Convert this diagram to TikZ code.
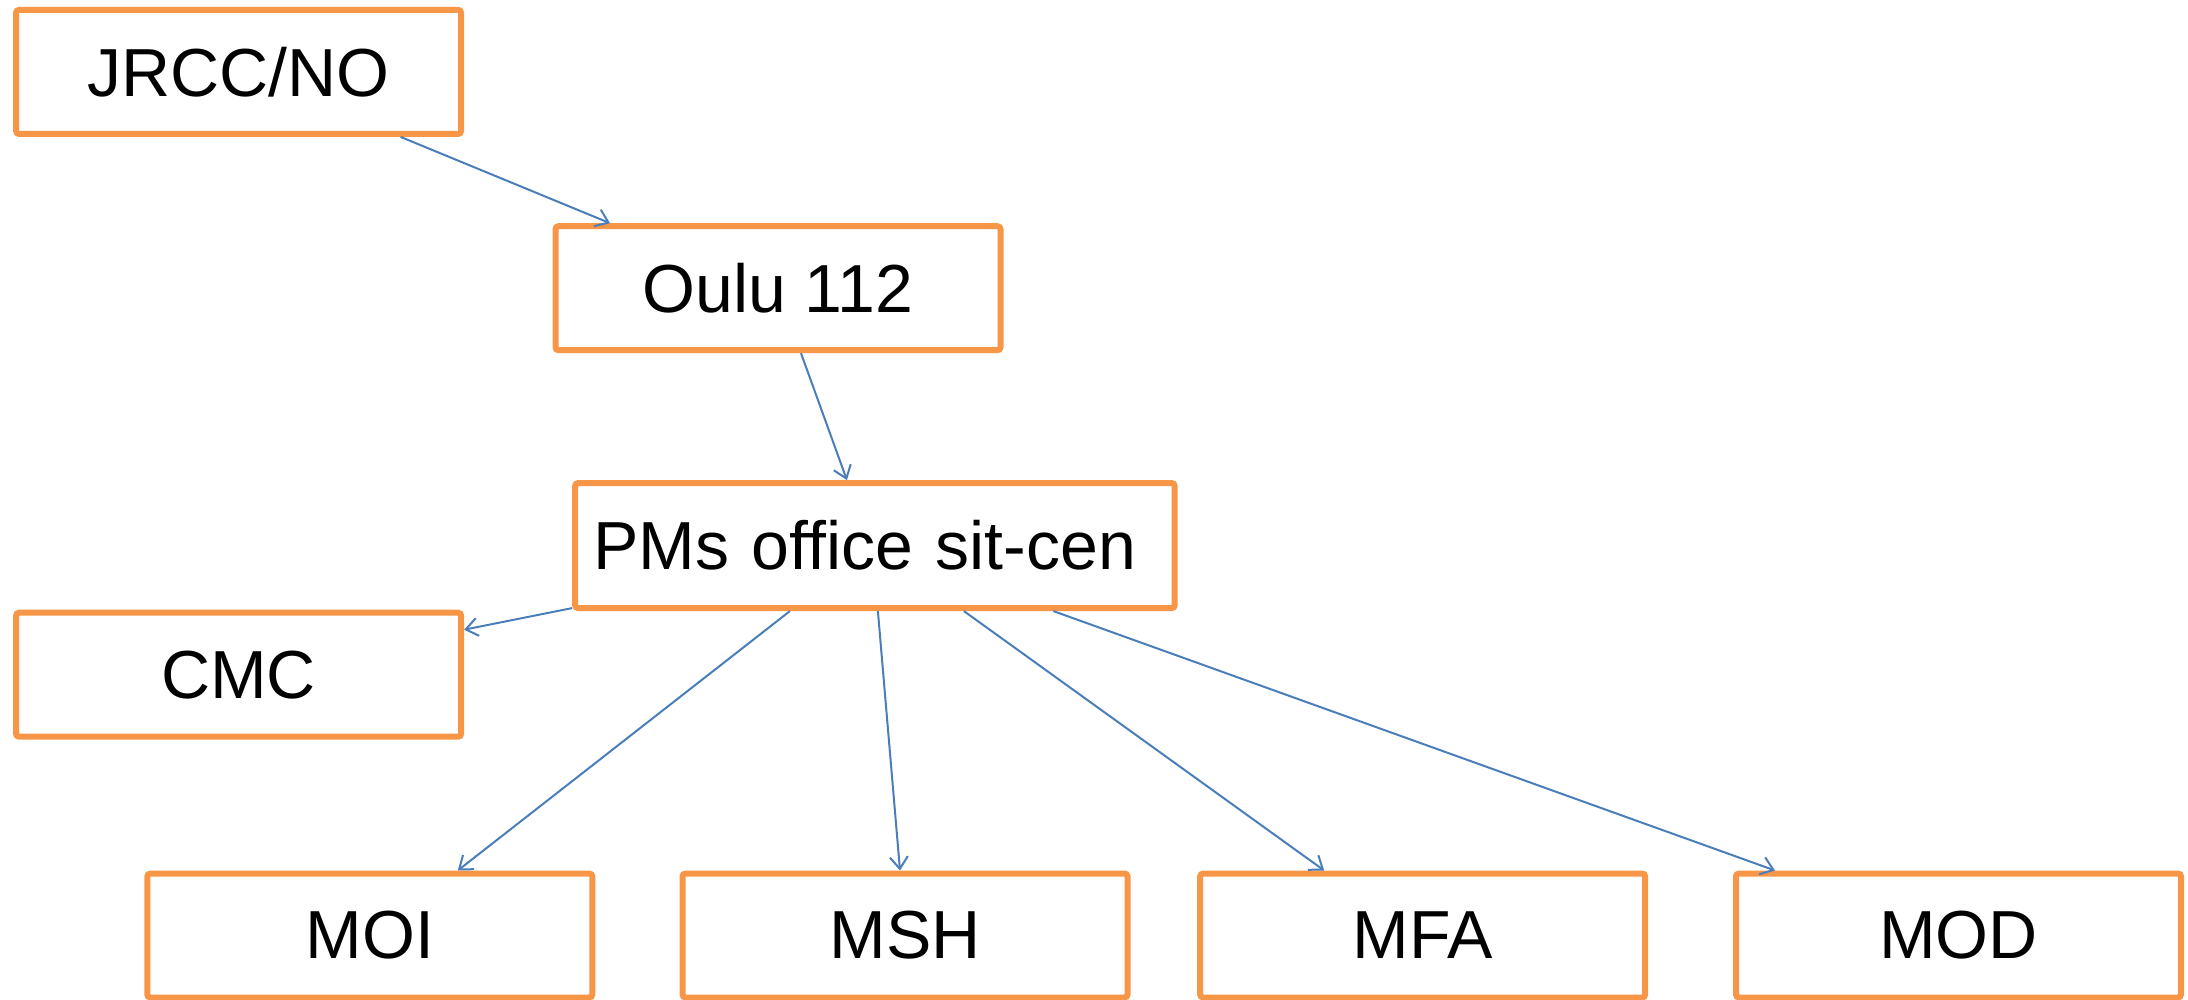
\documentclass[tikz,border=0pt]{standalone}
\usepackage{fontspec}
\setmainfont{Liberation Sans}
\usetikzlibrary{arrows.meta}
\definecolor{boxorange}{HTML}{F79646}
\definecolor{linkblue}{HTML}{4A7EBB}
\begin{document}
\begin{tikzpicture}[x=1pt,y=-1pt,
  orgbox/.style={draw=boxorange,line width=6pt,rounded corners=3pt,fill=white,
    minimum width=445pt,minimum height=124pt,inner sep=0pt,
    font=\fontsize{68}{80}\selectfont},
  link/.style={draw=linkblue,line width=2pt,-{Straight Barb[length=12pt,width=18pt,line width=2pt]}}]
\useasboundingbox (0,0) rectangle (2188,1000);
\node[orgbox] (jrcc) at (238.6,71.9) {JRCC/NO};
\node[orgbox] (oulu) at (778,288.2) {Oulu 112};
\node[orgbox,minimum width=0pt,text width=563.6pt,inner xsep=18pt,align=left,minimum height=125pt] (pms) at (874.9,545.6) {PMs office sit-cen};
\node[orgbox] (cmc) at (238.6,674.7) {CMC};
\node[orgbox] (moi) at (369.8,935.5) {MOI};
\node[orgbox] (msh) at (905,935.5) {MSH};
\node[orgbox] (mfa) at (1422.7,935.5) {MFA};
\node[orgbox] (mod) at (1958.5,935.5) {MOD};
\draw[link] ([xshift=162pt]jrcc.south) -- ([xshift=-168pt]oulu.north);
\draw[link] ([xshift=23pt]oulu.south) -- ([xshift=-28pt]pms.north);
\draw[link] ([yshift=3pt]pms.south west) -- ([yshift=45pt]cmc.east);
\draw[link] ([xshift=-85pt]pms.south) -- ([xshift=88pt]moi.north);
\draw[link] ([xshift=3pt]pms.south) -- ([xshift=-5pt]msh.north);
\draw[link] ([xshift=89pt]pms.south) -- ([xshift=-98.5pt]mfa.north);
\draw[link] ([xshift=178.5pt]pms.south) -- ([xshift=-183.5pt]mod.north);
\end{tikzpicture}
\end{document}
